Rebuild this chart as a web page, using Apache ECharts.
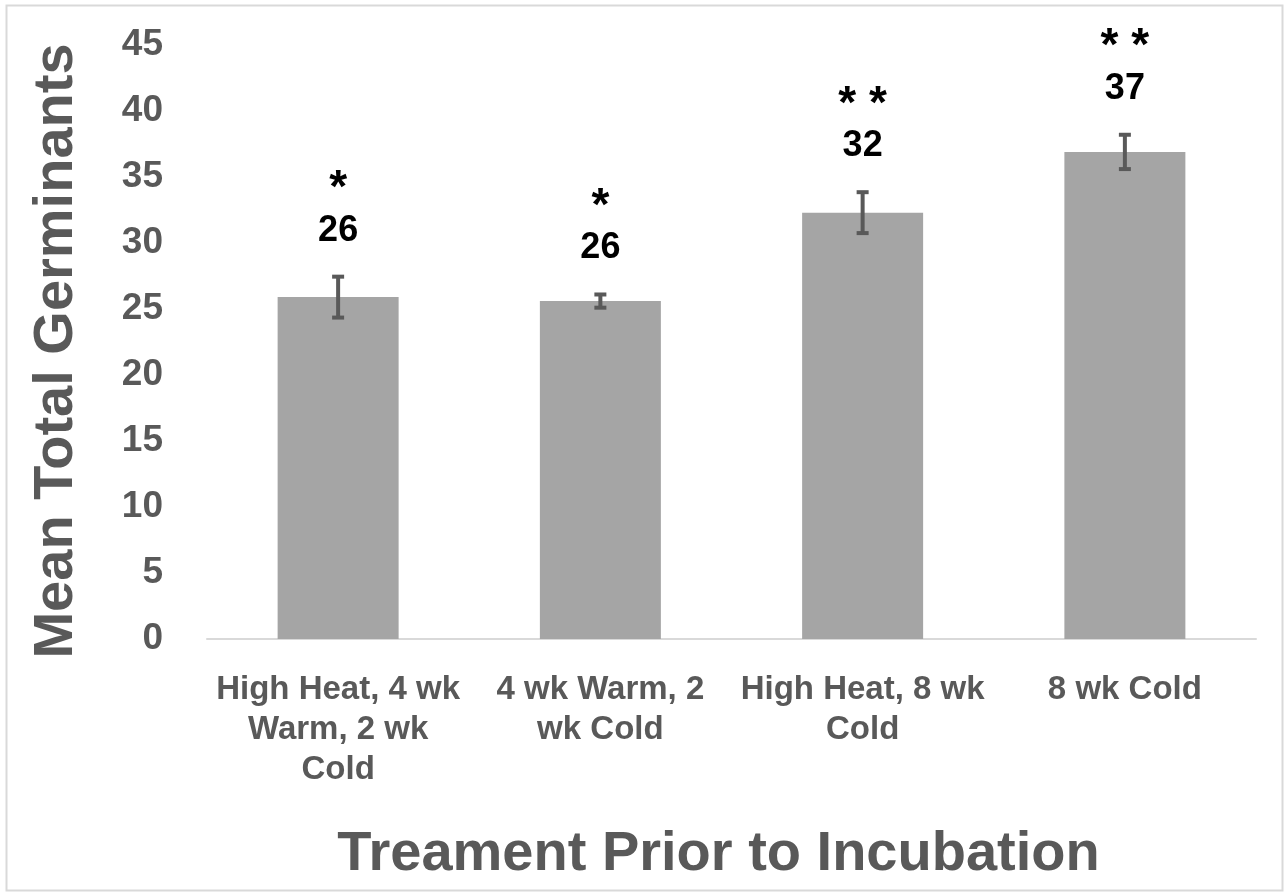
<!DOCTYPE html>
<html><head><meta charset="utf-8">
<script src="https://cdn.jsdelivr.net/npm/echarts@6/dist/echarts.min.js"></script>
<style>html,body{margin:0;padding:0;background:#fff}#c{width:1284px;height:892px}</style>
</head><body><div id="c"></div>
<script>
const categories = ["High Heat, 4 wk\nWarm, 2 wk\nCold", "4 wk Warm, 2\nwk Cold", "High Heat, 8 wk\nCold", "8 wk Cold"];
const means = [25.9, 25.6, 32.3, 36.9];
const errors = [1.55, 0.5, 1.55, 1.3];
const stars = ["*", "*", "* *", "* *"];
const yTicks = [0, 5, 10, 15, 20, 25, 30, 35, 40, 45];

const FONT = '"Liberation Sans", Arial, sans-serif';
const GRAY = '#595959';

const chart = echarts.init(document.getElementById('c'), null, {renderer: 'canvas'});
const errData = means.map((m, i) => [i, m - errors[i], m + errors[i], m, stars[i]]);

chart.setOption({
  backgroundColor: '#fff',
  animation: false,
  graphic: [{
    type: 'rect', silent: true,
    shape: {x: 6.5, y: 5.5, width: 1276, height: 885},
    style: {fill: 'none', stroke: '#d9d9d9', lineWidth: 2}
  }],
  grid: {left: 207, right: 28, top: 45, bottom: 253, containLabel: false},
  xAxis: {
    type: 'category',
    data: categories,
    name: 'Treament Prior to Incubation',
    nameLocation: 'middle',
    nameGap: 188,
    nameTextStyle: {fontFamily: FONT, fontWeight: 'bold', fontSize: 56, color: GRAY, padding: [0, 26, 0, 0]},
    axisLine: {lineStyle: {color: '#d9d9d9', width: 2}},
    axisTick: {show: false},
    axisLabel: {
      interval: 0, margin: 31,
      fontFamily: FONT, fontWeight: 'bold', fontSize: 33, color: GRAY, lineHeight: 40
    }
  },
  yAxis: {
    type: 'value',
    min: yTicks[0], max: yTicks[yTicks.length - 1], interval: 5,
    name: 'Mean Total Germinants',
    nameLocation: 'middle',
    nameGap: 122,
    nameRotate: 90,
    nameTextStyle: {fontFamily: FONT, fontWeight: 'bold', fontSize: 56, color: GRAY, padding: [0, 18, 0, 0]},
    axisLine: {show: false},
    axisTick: {show: false},
    splitLine: {show: false},
    axisLabel: {margin: 44, fontFamily: FONT, fontWeight: 'bold', fontSize: 37, color: GRAY}
  },
  series: [{
    type: 'bar',
    data: means,
    barWidth: 121,
    itemStyle: {color: '#a5a5a5'},
    z: 2
  }, {
    type: 'custom',
    data: errData,
    z: 3,
    renderItem: function (params, api) {
      const lo = api.coord([api.value(0), api.value(1)]);
      const hi = api.coord([api.value(0), api.value(2)]);
      const x = lo[0], cap = 6;
      const style = {stroke: GRAY, lineWidth: 4};
      const label = Math.round(api.value(3));
      return {
        type: 'group',
        children: [
          {type: 'line', shape: {x1: x, y1: lo[1], x2: x, y2: hi[1]}, style: style},
          {type: 'line', shape: {x1: x - cap, y1: lo[1], x2: x + cap, y2: lo[1]}, style: style},
          {type: 'line', shape: {x1: x - cap, y1: hi[1], x2: x + cap, y2: hi[1]}, style: style},
          {type: 'text', style: {
            x: x, y: hi[1] - 26,
            text: '{s|' + stars[params.dataIndex] + '}\n{v|' + label + '}',
            align: 'center', verticalAlign: 'bottom',
            rich: {
              s: {fontFamily: FONT, fontWeight: 'bold', fontSize: 46, lineHeight: 42, fill: '#000', align: 'center'},
              v: {fontFamily: FONT, fontWeight: 'bold', fontSize: 36, lineHeight: 40, fill: '#000', align: 'center'}
            }
          }}
        ]
      };
    }
  }]
});
</script></body></html>
